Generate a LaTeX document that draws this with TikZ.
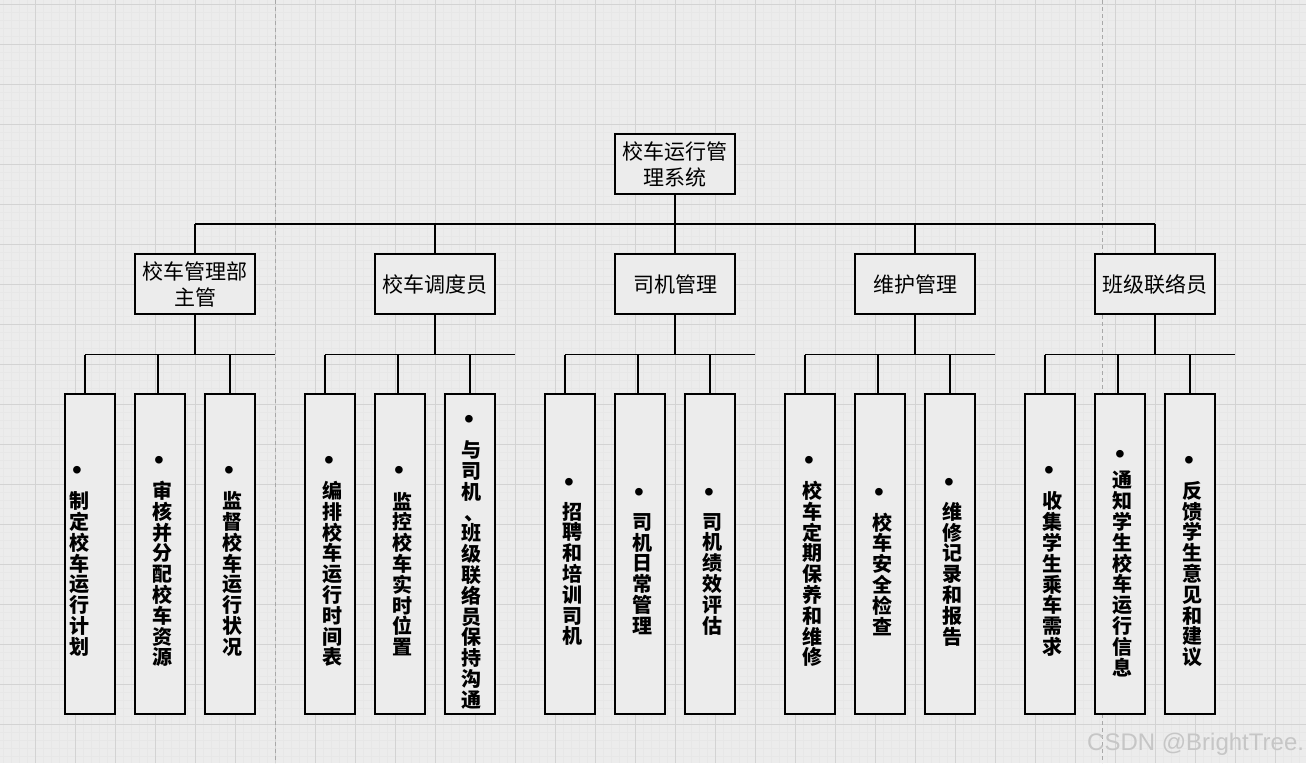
\documentclass[tikz,border=0pt]{standalone}
\usepackage{fontspec}
\newfontfamily\cjk{Noto Sans CJK SC}
\newfontfamily\wmfont{Liberation Sans}
\usetikzlibrary{calc}
\definecolor{bg}{HTML}{ECECEC}
\definecolor{minorc}{HTML}{E7E7E7}
\definecolor{majorc}{HTML}{D3D3D3}
\definecolor{pagec}{HTML}{A8A8A8}
\definecolor{wmc}{HTML}{C6C6C6}
\tikzset{
  box/.style={draw=black, line width=1.3pt, fill=bg, minimum width=120pt, minimum height=60pt,
    inner sep=0pt, align=center, font=\cjk\fontsize{21}{26}\selectfont},
  leafbox/.style={draw=black, line width=1.3pt, fill=bg, minimum width=50pt, minimum height=320pt, inner sep=0pt},
  leaftext/.style={inner sep=0pt, align=center, font=\cjk\bfseries\fontsize{20}{20.8}\selectfont},
  bul/.style={inner sep=0pt, font=\wmfont\fontsize{28}{28}\selectfont},
  conn/.style={draw=black, line width=1.3pt},
  minorgrid/.style={draw=minorc, line width=0.7pt},
  majorgrid/.style={draw=majorc, line width=1pt},
  pagebreak/.style={draw=pagec, line width=0.8pt, dash pattern=on 4pt off 3pt},
}
\newcommand\vcomma{\hspace{0.35em}、\hspace{-0.35em}}
\begin{document}
\begin{tikzpicture}[x=1pt,y=-1pt]
\useasboundingbox (0,0) rectangle (1306,763);
% background grid
\fill[bg] (0,0) rectangle (1306,763);
\foreach \x in {3,11,...,1306} \draw[minorgrid] (\x,0) -- (\x,763);
\foreach \y in {4,12,...,763} \draw[minorgrid] (0,\y) -- (1306,\y);
\foreach \x in {35,75,...,1306} \draw[majorgrid] (\x,0) -- (\x,763);
\foreach \y in {4,44,...,763} \draw[majorgrid] (0,\y) -- (1306,\y);
\draw[pagebreak] (275,0) -- (275,763);
\draw[pagebreak] (1102,0) -- (1102,763);

% root and level 2
\node[box] (root) at (675,164) {校车运行管\\理系统};
\node[box] (m1) at (195,284) {校车管理部\\主管};
\node[box] (m2) at (435,284) {校车调度员};
\node[box] (m3) at (675,284) {司机管理};
\node[box] (m4) at (915,284) {维护管理};
\node[box] (m5) at (1155,284) {班级联络员};

% leaves
\foreach \n/\bx in {1/90,2/160,3/230,4/330,5/400,6/470,7/570,8/640,9/710,10/810,11/880,12/950,13/1050,14/1120,15/1190}
  \node[leafbox] (l\n) at (\bx,554) {};

\node[leaftext] (t1) at (79,574) {制\\定\\校\\车\\运\\行\\计\\划};
\node[leaftext] (t2) at (162,574) {审\\核\\并\\分\\配\\校\\车\\资\\源};
\node[leaftext] (t3) at (232,574) {监\\督\\校\\车\\运\\行\\状\\况};
\node[leaftext] (t4) at (332,574) {编\\排\\校\\车\\运\\行\\时\\间\\表};
\node[leaftext] (t5) at (402,574) {监\\控\\校\\车\\实\\时\\位\\置};
\node[leaftext] (t6) at (471,575) {与\\司\\机\\\vcomma\\班\\级\\联\\络\\员\\保\\持\\沟\\通};
\node[leaftext] (t7) at (572,574) {招\\聘\\和\\培\\训\\司\\机};
\node[leaftext] (t8) at (642,574) {司\\机\\日\\常\\管\\理};
\node[leaftext] (t9) at (712,574) {司\\机\\绩\\效\\评\\估};
\node[leaftext] (t10) at (812,574) {校\\车\\定\\期\\保\\养\\和\\维\\修};
\node[leaftext] (t11) at (882,574) {校\\车\\安\\全\\检\\查};
\node[leaftext] (t12) at (952,574) {维\\修\\记\\录\\和\\报\\告};
\node[leaftext] (t13) at (1052,574) {收\\集\\学\\生\\乘\\车\\需\\求};
\node[leaftext] (t14) at (1122,574) {通\\知\\学\\生\\校\\车\\运\\行\\信\\息};
\node[leaftext] (t15) at (1192,574) {反\\馈\\学\\生\\意\\见\\和\\建\\议};

\foreach \n/\bx/\by in {1/77/473,2/159/463,3/229/473,4/329/463,5/399/473,6/469/422,7/569/485,8/639/495,9/709/495,10/809/463,11/879/495,12/949/485,13/1049/473,14/1120/457,15/1189/463}
  \node[bul] (b\n) at (\bx,\by) {•};

% level 1 connectors
\coordinate (bus0) at (675,224);
\draw[conn] (root.south) -- (bus0);
\draw[conn] (bus0 -| m1.north) -- (bus0 -| m5.north);
\foreach \m in {m1,m2,m3,m4,m5}
  \draw[conn] (bus0 -| \m.north) -- (\m.north);

% level 2 connectors
\foreach \g/\a/\b/\c in {1/1/2/3,2/4/5/6,3/7/8/9,4/10/11/12,5/13/14/15}{
  \coordinate (bus\g) at ($(m\g.south)+(0,40)$);
  \coordinate (busL\g) at ($(bus\g)+(-110,0)$);
  \coordinate (busR\g) at ($(bus\g)+(80,0)$);
  \draw[conn] (m\g.south) -- (bus\g);
  \draw[conn] (busL\g) -- (busR\g);
  \draw[conn] (busL\g) -- (busL\g |- l\a.north);
  \draw[conn] ($(l\b.north |- bus\g)+(-2,0)$) -- ($(l\b.north)+(-2,0)$);
  \draw[conn] (l\c.north |- bus\g) -- (l\c.north);
}

% watermark
\node[anchor=base west, inner sep=0pt, text=wmc, font=\wmfont\fontsize{24}{24}\selectfont] (wm) at (1087,750) {CSDN @BrightTree.};
\end{tikzpicture}
\end{document}
